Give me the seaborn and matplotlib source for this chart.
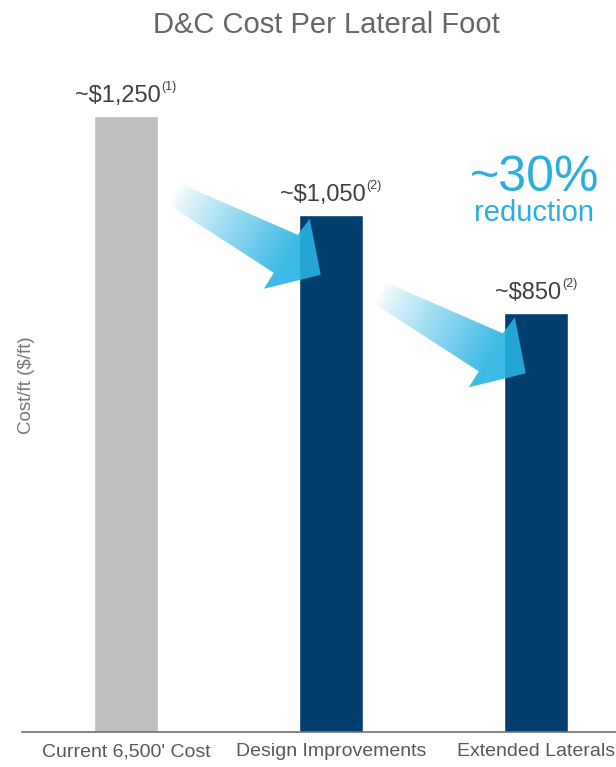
import numpy as np
import pandas as pd
import matplotlib
matplotlib.use("Agg")
import matplotlib.pyplot as plt
import seaborn as sns
from matplotlib.patches import Polygon
from matplotlib.colors import to_rgb

# Chart data
categories = ["Current 6,500' Cost", "Design Improvements", "Extended Laterals"]
costs = [1250, 1050, 850]
footnotes = ["(1)", "(2)", "(2)"]
bar_colors = ["#bfbfbf", "#023f6e", "#023f6e"]
callout_big = "~30%"
callout_small = "reduction"

sns.set_theme(style="white")
plt.rcParams["font.family"] = ["Liberation Sans", "DejaVu Sans"]

W, H, DPI = 616, 767, 100
fig = plt.figure(figsize=(W / DPI, H / DPI), dpi=DPI)
fig.patch.set_facecolor("white")
ax = fig.add_axes([22 / W, 35 / H, 594 / W, 672 / H])

df = pd.DataFrame({"category": categories, "cost": costs})
sns.barplot(data=df, x="category", y="cost", hue="category", palette=bar_colors,
            width=0.312, saturation=1, legend=False, ax=ax, zorder=2)
ax.set_xlim(-0.507, 2.39)
ax.set_ylim(0, 1364)

for s in ["top", "right", "left"]:
    ax.spines[s].set_visible(False)
ax.spines["bottom"].set_color("#6e6e6e")
ax.spines["bottom"].set_linewidth(1.2)
ax.set_yticks([])
ax.set_xlabel("")
ax.tick_params(axis="x", length=0, pad=8, labelsize=14, labelcolor="#595959")

ax.set_ylabel("Cost/ft ($/ft)", fontsize=13.5, color="#777777")
ax.yaxis.label.set_va("center")
ax.yaxis.set_label_coords(0.007, 0.516)

# value labels with small raised footnote markers, centred as a unit on each bar
renderer = fig.canvas.get_renderer()
pt_per_px = 72 / DPI
for i, (c, fn) in enumerate(zip(costs, footnotes)):
    main = ax.annotate("~$" + f"{c:,}", (i, c), xytext=(0, 0), textcoords="offset points",
                       ha="left", va="baseline", fontsize=17, color="#404040", zorder=4)
    sup = ax.annotate(fn, (i, c), xytext=(0, 0), textcoords="offset points",
                      ha="left", va="baseline", fontsize=9, color="#404040", zorder=4)
    wm = main.get_window_extent(renderer).width
    ws = sup.get_window_extent(renderer).width
    left = -(wm + ws + 1) / 2
    main.set_position((left * pt_per_px, 14 * pt_per_px))
    sup.set_position(((left + wm + 1) * pt_per_px, 26 * pt_per_px))

# gradient arrows pointing into the reduced-cost bars
arrow_shape = np.array([
    (-140, -91), (-23, -40), (-11, -56), (0, 0),
    (-57, 14), (-47, -2), (-152, -70),
], dtype=float)  # pixel offsets (right, down) from the arrow tip
cyan = np.array(to_rgb("#27b2e2"))
inv = ax.transData.inverted()

for i in (1, 2):
    tip = ax.transData.transform((i - 0.05, costs[i] - 122))
    verts_disp = np.column_stack([tip[0] + arrow_shape[:, 0], tip[1] - arrow_shape[:, 1]])
    verts_data = inv.transform(verts_disp)
    poly = Polygon(verts_data, closed=True, facecolor="none", edgecolor="none",
                   transform=ax.transData)
    ax.add_patch(poly)

    x0, y0 = verts_disp.min(axis=0) - 2
    x1, y1 = verts_disp.max(axis=0) + 2
    nx, ny = int(x1 - x0) * 2, int(y1 - y0) * 2
    gx, gy = np.meshgrid(np.linspace(x0, x1, nx), np.linspace(y0, y1, ny))
    u = np.array([1.0, -0.55])
    u /= np.linalg.norm(u)
    proj = (gx - tip[0]) * u[0] + (gy - tip[1]) * u[1]
    pv = (verts_disp[:, 0] - tip[0]) * u[0] + (verts_disp[:, 1] - tip[1]) * u[1]
    t0, t1 = pv.min(), pv[2]
    t = np.clip((proj - t0) / (t1 - t0), 0, 1)
    alpha = 0.02 + 0.88 * t ** 0.9
    img = np.zeros((ny, nx, 4))
    img[..., :3] = cyan
    img[..., 3] = alpha
    (dx0, dy0) = inv.transform((x0, y0))
    (dx1, dy1) = inv.transform((x1, y1))
    im = ax.imshow(img, extent=(dx0, dx1, dy0, dy1), origin="lower",
                   aspect="auto", interpolation="bilinear", zorder=3)
    im.set_clip_path(poly)

ax.set_xlim(-0.507, 2.39)
ax.set_ylim(0, 1364)

fig.text(326 / W, 1 - 25 / H, "D&C Cost Per Lateral Foot", ha="center", va="center",
         fontsize=21, color="#666666")
fig.text(534 / W, 1 - 178 / H, callout_big, ha="center", va="center",
         fontsize=36, color="#2aaee0")
fig.text(534 / W, 1 - 213 / H, callout_small, ha="center", va="center",
         fontsize=21, color="#2aaee0")

fig.savefig("out.png", dpi=DPI, facecolor="white")
